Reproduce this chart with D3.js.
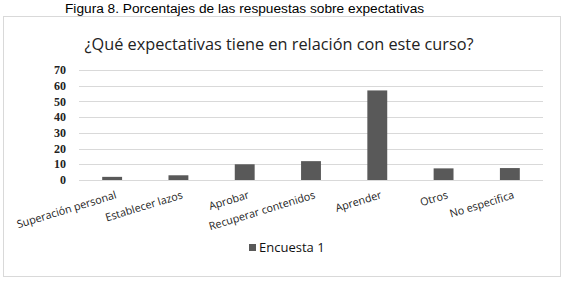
<!DOCTYPE html>
<html>
<head>
<meta charset="utf-8">
<script src="https://cdn.jsdelivr.net/npm/d3@7"></script>
<style>
  body { margin: 0; background: #fff; }
</style>
</head>
<body>
<div id="chart"></div>
<script>
// --------------------------------------
//  Data
// --------------------------------------
const categories = ["Superación personal", "Establecer lazos", "Aprobar", "Recuperar contenidos", "Aprender", "Otros", "No especifica"];
const encuesta1 = [2, 3, 10, 12, 57, 7.4, 7.6];
const yTicks = [0, 10, 20, 30, 40, 50, 60, 70];
const seriesName = "Encuesta 1";

const width = 564, height = 281;
const margin = { top: 70, right: 21, bottom: 101, left: 79 };
const innerwidth = width - margin.left - margin.right;
const innerheight = height - margin.top - margin.bottom;

// --------------------------------------
//  Canvas
// --------------------------------------
const svg = d3.select("#chart")
  .append("svg")
    .attr("width", width)
    .attr("height", height);

svg.append("text")
  .attr("x", 65)
  .attr("y", 13)
  .attr("font-family", "Liberation Sans, Arial, sans-serif")
  .attr("font-size", 13.7)
  .attr("fill", "#000")
  .text("Figura 8. Porcentajes de las respuestas sobre expectativas");

svg.append("rect")
  .attr("x", 3.5)
  .attr("y", 16.5)
  .attr("width", 557)
  .attr("height", 260)
  .attr("fill", "#fff")
  .attr("stroke", "#d9d9d9");

svg.append("text")
  .attr("x", 279)
  .attr("y", 50)
  .attr("text-anchor", "middle")
  .attr("font-family", "Open Sans, Noto Sans, sans-serif")
  .attr("font-size", 16.3)
  .attr("fill", "#222")
  .text("¿Qué expectativas tiene en relación con este curso?");

const inner = svg.append("g")
  .attr("transform", `translate(${margin.left}, ${margin.top})`);

// --------------------------------------
//  Scales
// --------------------------------------
const x = d3.scaleBand()
  .domain(categories)
  .range([0, innerwidth])
  .paddingInner(0.7)
  .paddingOuter(0.35);

const y = d3.scaleLinear()
  .domain([0, 70])
  .range([innerheight, 0]);

// --------------------------------------
//  Grid and axes
// --------------------------------------
inner.append("g")
  .selectAll("line")
  .data(yTicks)
  .join("line")
    .attr("x1", 0)
    .attr("x2", innerwidth)
    .attr("y1", d => Math.round(y(d)) + 0.5)
    .attr("y2", d => Math.round(y(d)) + 0.5)
    .attr("stroke", "#d9d9d9");

inner.append("g")
  .selectAll("text")
  .data(yTicks)
  .join("text")
    .attr("x", -13)
    .attr("y", d => y(d))
    .attr("dy", "0.35em")
    .attr("text-anchor", "end")
    .attr("font-family", "Liberation Serif, serif")
    .attr("font-weight", "bold")
    .attr("font-size", 12)
    .attr("fill", "#222")
    .text(d => d);

// --------------------------------------
//  Bars
// --------------------------------------
inner.append("g")
  .selectAll("rect")
  .data(categories)
  .join("rect")
    .attr("x", d => x(d))
    .attr("width", x.bandwidth())
    .attr("y", (d, i) => y(encuesta1[i]))
    .attr("height", (d, i) => innerheight - y(encuesta1[i]))
    .attr("fill", "#595959");

// --------------------------------------
//  Category labels
// --------------------------------------
inner.append("g")
  .selectAll("text")
  .data(categories)
  .join("text")
    .attr("transform", d => `translate(${x(d) + x.bandwidth() / 2 + 5}, ${innerheight + 18}) rotate(-17)`)
    .attr("text-anchor", "end")
    .attr("font-family", "Open Sans, Noto Sans, sans-serif")
    .attr("font-size", 10.8)
    .attr("fill", "#222")
    .text(d => d);

// --------------------------------------
//  Legend
// --------------------------------------
const legend = svg.append("g")
  .attr("transform", "translate(249, 244)");

legend.append("rect")
  .attr("width", 7)
  .attr("height", 7)
  .attr("fill", "#595959");

legend.append("text")
  .attr("x", 10)
  .attr("y", 8)
  .attr("font-family", "Open Sans, Noto Sans, sans-serif")
  .attr("font-size", 13)
  .attr("fill", "#111")
  .text(seriesName);
</script>
</body>
</html>
